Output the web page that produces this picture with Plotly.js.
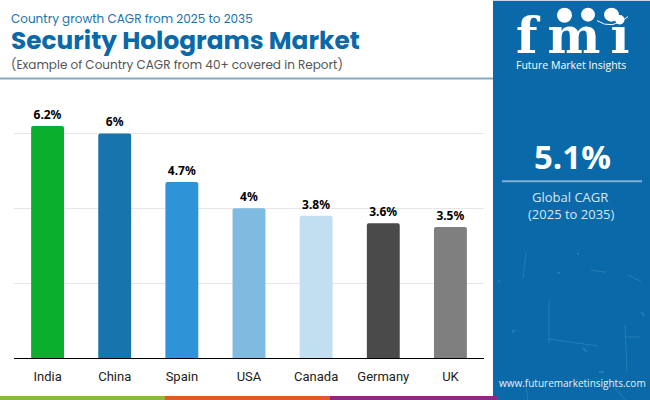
<!DOCTYPE html>
<html><head><meta charset="utf-8">
<script src="https://cdn.plot.ly/plotly-3.0.1.min.js"></script>
<style>html,body{margin:0;padding:0;background:#fff}</style></head>
<body><div id="c" style="width:650px;height:400px"></div>
<script>
const countries=['India','China','Spain','USA','Canada','Germany','UK'];
const cagr=[6.2,6,4.7,4,3.8,3.6,3.5];
const barColors=['#0aaf2e','#1874ad','#2f93d8','#7fbae0','#c2dff2','#4a4a4a','#7f7f7f'];
const gridTicks=[0,2,4,6];
const W=650,H=400,L=14,R=166,T=95.5,B=42;
const px=x=>(x-L)/(W-L-R), py=y=>1-(y-T)/(H-T-B);
const rect=(x0,y0,x1,y1,c,layer)=>({type:'rect',xref:'paper',yref:'paper',x0:px(x0),x1:px(x1),y0:py(y0),y1:py(y1),fillcolor:c,line:{width:0},layer:layer||'below'});
const seg=(x0,y0,x1,y1,c,w)=>({type:'line',xref:'paper',yref:'paper',x0:px(x0),x1:px(x1),y0:py(y0),y1:py(y1),line:{color:c,width:w},layer:'above'});
const txt=(s,x,y,size,color,font,anchor)=>({text:s,xref:'paper',yref:'paper',x:px(x),y:py(y),xanchor:anchor||'left',yanchor:'middle',showarrow:false,font:{size:size,color:color,family:font},align:anchor==='center'?'center':'left',borderpad:0});
const panel='#0a69a8',sp='rgba(150,205,235,0.2)';
const shapes=[
 rect(0,77,493,79,'#85aac6'),
 rect(493,0,650,400,panel),
 rect(0,396,165,400,'#8ab83f'),rect(165,396,330,400,'#e0592a'),rect(330,396,497,400,'#8a2a82'),
 seg(502,181,642,181,'#7fb2d6',2),
 // background speckle
 seg(526,253,523,278,sp,1),seg(549,301,549,343,sp,1),seg(549,339,598,346,sp,1),seg(625,325,627,372,sp,1),
 seg(628,275,641,281,sp,1),seg(591,270,606,272,sp,1),seg(515,330,512,332,sp,2),seg(625,337,640,337,sp,1),
 seg(599,372,604,372,sp,2),seg(615,388,625,400,sp,1),seg(526,388,528,400,sp,1),seg(577,253,579,254,sp,2),
 seg(498,281,500,281,sp,2),seg(557,272,560,273,sp,2),seg(642,312,644,316,sp,2),seg(583,348,587,352,sp,2),
];
// logo stripes across the white letters
for(const y of [22,27,32,37,42,47,52]) shapes.push(seg(515,y,628,y,panel,1));
const dot=(x0,y0,x1,y1)=>({type:'circle',xref:'paper',yref:'paper',x0:px(x0),x1:px(x1),y0:py(y0),y1:py(y1),fillcolor:'#fff',line:{width:0},layer:'above'});
shapes.push(dot(557,7,572,22),dot(581,7,595,21),dot(604,7,619,21),
 {type:'path',xref:'paper',yref:'paper',path:`M ${px(597)} ${py(20)} Q ${px(612)} ${py(30)} ${px(628)} ${py(16)}`,line:{color:'#fff',width:1},layer:'above'});
const annotations=[
 txt('Country growth CAGR from 2025 to 2035',10,17.5,12,'#2273ab','Poppins, Open Sans'),
 txt('<b>Security Holograms Market</b>',10,40,24.8,'#0a69a8','Poppins, Open Sans'),
 txt('(Example of Country CAGR from 40+ covered in Report)',10,64,12,'#555555','Poppins, Open Sans'),
 txt('<b>f\u2009m\u2009i</b>',572,35,50,'#ffffff','DejaVu Serif','center'),
 txt('Future Market Insights',571,64,10.5,'#ffffff','Open Sans','center'),
 txt('<b>5.1%</b>',572,156,33,'#ffffff','Open Sans','center'),
 txt('Global CAGR',570,197,13,'#d6e8f4','Open Sans','center'),
 txt('(2025 to 2035)',571,214,13,'#d6e8f4','Open Sans','center'),
 txt('www.futuremarketinsights.com',572,383,10,'#e6f1f8','Open Sans','center'),
];
Plotly.newPlot('c',[{
 type:'bar',x:countries,y:cagr,width:0.49,
 marker:{color:barColors,line:{width:0}},
 text:cagr.map(v=>v+'%'),textposition:'outside',cliponaxis:false,
 textfont:{family:'Noto Sans',size:12,color:'#000',weight:700},hoverinfo:'skip'
}],{
 width:W,height:H,margin:{l:L,r:R,t:T,b:B,pad:0},paper_bgcolor:'#fff',plot_bgcolor:'rgba(0,0,0,0)',
 barcornerradius:2,showlegend:false,
 xaxis:{type:'category',range:[-0.5,6.5],showgrid:false,ticks:'',showline:true,linecolor:'#000',linewidth:1,
  tickfont:{family:'Roboto',size:13,color:'#222'},ticklabelstandoff:6},
 yaxis:{range:[0,7],tickvals:gridTicks,showticklabels:false,gridcolor:'#e6e6e6',gridwidth:1,zeroline:false,ticks:''},
 shapes,annotations
},{displayModeBar:false,staticPlot:true});
</script></body></html>
